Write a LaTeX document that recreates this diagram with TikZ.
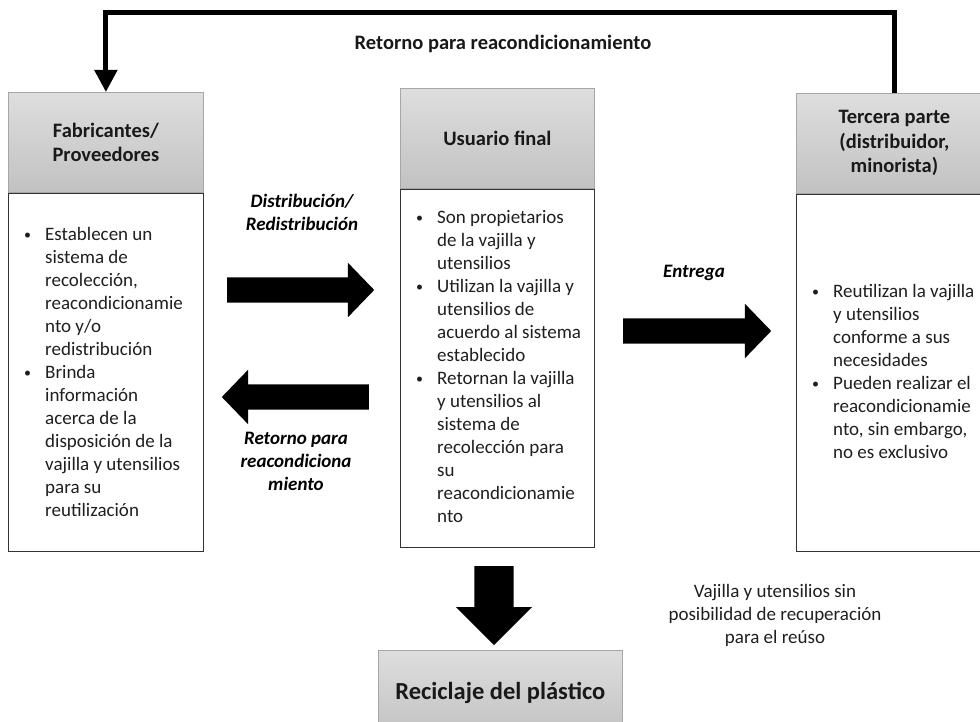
\documentclass[tikz,border=0pt]{standalone}
\usepackage{fontspec}
\setmainfont{Carlito}
\usetikzlibrary{shapes.arrows,arrows.meta}
\newcommand\bi{\makebox[21pt][l]{\fontsize{14}{14}\selectfont\raisebox{1pt}{•}}}
\newcommand\bc{\hspace*{21pt}}
\tikzset{
  hdr/.style={draw=black!35, line width=0.8pt, top color=black!13, bottom color=black!24,
    minimum width=195pt, minimum height=100pt, inner sep=0pt, anchor=north west,
    font=\bfseries\fontsize{20.5}{24.5}\selectfont, align=center, text=black!90},
  bodybox/.style={draw=black!80, line width=1.3pt, fill=white, inner sep=0pt,
    minimum width=195pt, anchor=north west},
  btext/.style={font=\fontsize{19}{23}\selectfont, align=left, anchor=north west,
    inner sep=0pt, text=black!88},
  lbl/.style={font=\bfseries\itshape\fontsize{19}{23}\selectfont, align=center, inner sep=0pt},
  blk/.style={single arrow, fill=black, draw=none, inner xsep=0pt, inner ysep=12.5pt,
    single arrow head extend=14.5pt, single arrow tip angle=92, anchor=tail},
}
\begin{document}
\begin{tikzpicture}[x=1pt,y=-1pt]
\useasboundingbox (0,0) rectangle (980,722);
\clip (0,0) rectangle (980,722);
% left
\node[hdr] (fabH) at (8,92) {Fabricantes/\\Proveedores};
\node[bodybox, minimum height=358pt] (fabB) at (fabH.south west) {};
\node[btext] (fabT) at ([xshift=16pt,yshift=-34pt]fabB.north west)
 {\bi Establecen un\\ \bc sistema de\\ \bc recolección,\\ \bc reacondicionamie\\ \bc nto y/o\\ \bc redistribución\\
  \bi Brinda\\ \bc información\\ \bc acerca de la\\ \bc disposición de la\\ \bc vajilla y utensilios\\ \bc para su\\ \bc reutilización};
% middle
\node[hdr, minimum width=194pt] (usrH) at (400,88) {Usuario final};
\node[bodybox, minimum width=194pt, minimum height=358pt] (usrB) at (usrH.south west) {};
\node[btext] (usrT) at ([xshift=16pt,yshift=-21.5pt]usrB.north west)
 {\bi Son propietarios\\ \bc de la vajilla y\\ \bc utensilios\\
  \bi Utilizan la vajilla y\\ \bc utensilios de\\ \bc acuerdo al sistema\\ \bc establecido\\
  \bi Retornan la vajilla\\ \bc y utensilios al\\ \bc sistema de\\ \bc recolección para\\ \bc su\\ \bc reacondicionamie\\ \bc nto};
% right
\node[hdr, minimum width=196pt] (terH) at (796,93) {Tercera parte\\(distribuidor,\\minorista)};
\node[bodybox, minimum width=196pt, minimum height=357pt] (terB) at (terH.south west) {};
\node[btext] (terT) at ([xshift=16pt,yshift=-90.5pt]terB.north west)
 {\bi Reutilizan la vajilla\\ \bc y utensilios\\ \bc conforme a sus\\ \bc necesidades\\
  \bi Pueden realizar el\\ \bc reacondicionamie\\ \bc nto, sin embargo,\\ \bc no es exclusivo};
% bottom
\node[hdr, minimum width=244pt, minimum height=85pt, font=\bfseries\fontsize{24.5}{29}\selectfont] (rec) at (378,650) {Reciclaje del plástico};
% top loop
\draw[line width=5pt, -{Triangle[width=22pt,length=22pt]}] (terH.north) -- ++(0,-80) -| (fabH.north);
\node[font=\bfseries\fontsize{20.5}{24}\selectfont, text=black!90] (topL) at (503,44) {Retorno para reacondicionamiento};
% block arrows
\node[blk, minimum height=147pt] (a1) at (227,290) {};
\node[blk, minimum height=147pt, shape border rotate=180] (a2) at (369,397) {};
\node[blk, minimum height=148pt] (a3) at (623,331) {};
\node[blk, minimum height=79pt, inner xsep=19.5pt, inner ysep=0pt, single arrow head extend=18.5pt, single arrow tip angle=90, shape border rotate=270] (a4) at (494,566) {};
% labels
\node[lbl] (l1) at (302,212) {Distribución/\\Redistribución};
\node[lbl] (l2) at (296,461) {Retorno para\\reacondiciona\\miento};
\node[lbl] (l3) at (694,273) {Entrega};
\node[font=\fontsize{19}{23}\selectfont, align=center, text=black!88] (l4) at (775,615) {Vajilla y utensilios sin\\posibilidad de recuperación\\para el reúso};
\end{tikzpicture}
\end{document}
